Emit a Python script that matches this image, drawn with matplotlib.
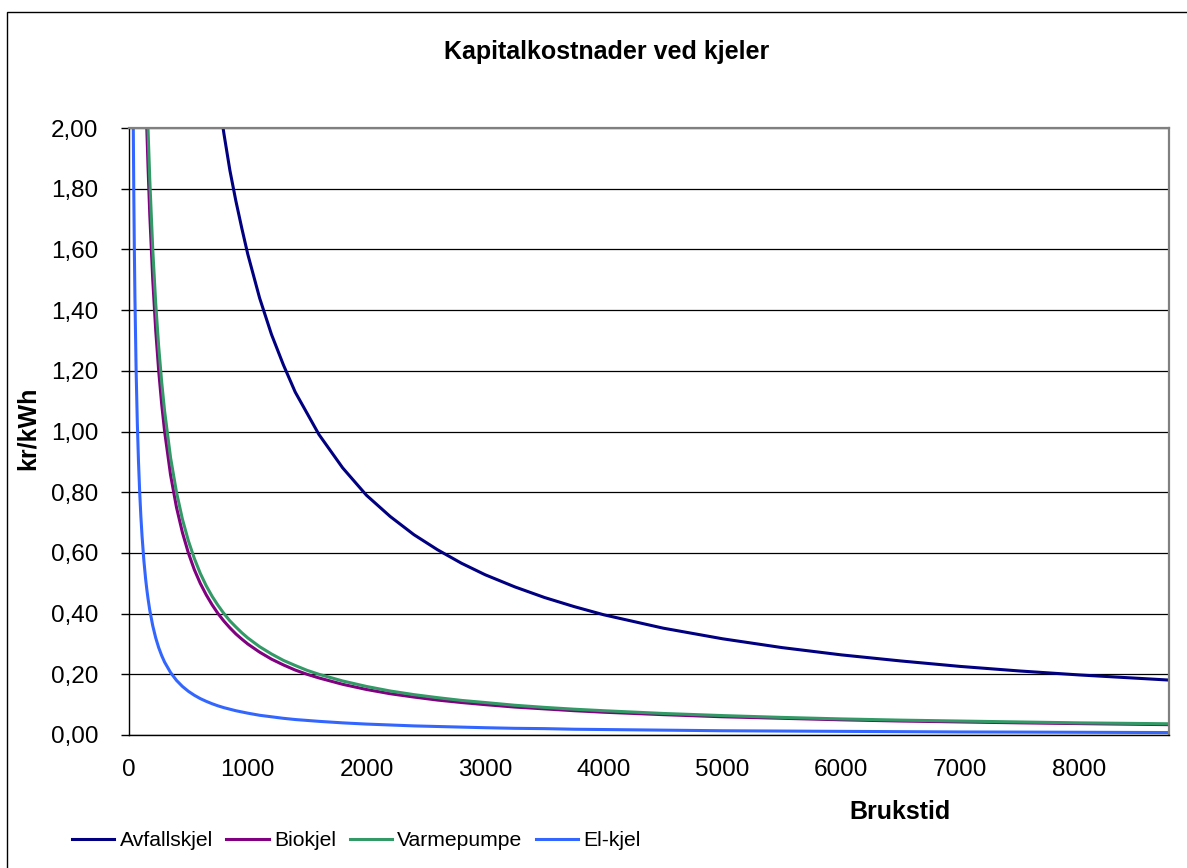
import matplotlib.pyplot as plt
from matplotlib.patches import Rectangle

plt.rcParams['font.family'] = ['Liberation Sans', 'DejaVu Sans']

# brukstid (timer) and kapitalkostnad (kr/kWh)
brukstid = [30, 35, 40, 45, 50, 60, 70, 80, 90, 100,
            110, 125, 140, 150, 160, 175, 200, 225, 250, 275,
            300, 350, 400, 450, 500, 550, 600, 650, 700, 750,
            800, 850, 900, 950, 1000, 1100, 1200, 1300, 1400, 1500,
            1600, 1800, 2000, 2200, 2400, 2600, 2800, 3000, 3250, 3500,
            3750, 4000, 4500, 5000, 5500, 6000, 6500, 7000, 7500, 8000,
            8760]

avfallskjel = [52.83, 45.29, 39.63, 35.22, 31.70, 26.42, 22.64, 19.81, 17.61, 15.85,
               14.41, 12.68, 11.32, 10.57, 9.91, 9.06, 7.93, 7.04, 6.34, 5.76,
               5.28, 4.53, 3.96, 3.52, 3.17, 2.88, 2.64, 2.44, 2.26, 2.11,
               1.98, 1.86, 1.76, 1.67, 1.585, 1.44, 1.32, 1.22, 1.13, 1.06,
               0.99, 0.88, 0.79, 0.720, 0.660, 0.610, 0.566, 0.528, 0.488, 0.453,
               0.423, 0.396, 0.352, 0.317, 0.288, 0.264, 0.244, 0.226, 0.211, 0.198,
               0.181]

biokjel = [10.0, 8.57, 7.5, 6.67, 6.0, 5.0, 4.29, 3.75, 3.33, 3.0,
           2.73, 2.4, 2.14, 2.0, 1.875, 1.714, 1.5, 1.333, 1.2, 1.091,
           1.0, 0.857, 0.75, 0.667, 0.6, 0.545, 0.5, 0.462, 0.429, 0.4,
           0.375, 0.353, 0.333, 0.316, 0.3, 0.273, 0.25, 0.231, 0.214, 0.2,
           0.188, 0.167, 0.15, 0.136, 0.125, 0.115, 0.107, 0.1, 0.092, 0.086,
           0.08, 0.075, 0.067, 0.06, 0.055, 0.05, 0.046, 0.043, 0.04, 0.0375,
           0.034]

varmepumpe = [10.67, 9.14, 8.0, 7.11, 6.4, 5.33, 4.57, 4.0, 3.56, 3.2,
              2.91, 2.56, 2.29, 2.13, 2.0, 1.829, 1.6, 1.422, 1.28, 1.164,
              1.067, 0.914, 0.8, 0.711, 0.64, 0.582, 0.533, 0.492, 0.457, 0.427,
              0.4, 0.376, 0.356, 0.337, 0.32, 0.291, 0.267, 0.246, 0.229, 0.213,
              0.2, 0.178, 0.16, 0.145, 0.133, 0.123, 0.114, 0.107, 0.098, 0.091,
              0.085, 0.08, 0.071, 0.064, 0.058, 0.053, 0.049, 0.046, 0.043, 0.04,
              0.037]

el_kjel = [2.4, 2.057, 1.8, 1.6, 1.44, 1.2, 1.029, 0.9, 0.8, 0.72,
           0.655, 0.576, 0.514, 0.48, 0.45, 0.411, 0.36, 0.32, 0.288, 0.262,
           0.24, 0.206, 0.18, 0.16, 0.144, 0.131, 0.12, 0.111, 0.103, 0.096,
           0.09, 0.085, 0.08, 0.076, 0.072, 0.065, 0.06, 0.055, 0.051, 0.048,
           0.045, 0.04, 0.036, 0.033, 0.03, 0.028, 0.026, 0.024, 0.022, 0.021,
           0.019, 0.018, 0.016, 0.014, 0.013, 0.012, 0.011, 0.010, 0.0096, 0.009,
           0.008]

series = [('Avfallskjel', avfallskjel, '#000080'),
          ('Biokjel', biokjel, '#800080'),
          ('Varmepumpe', varmepumpe, '#339966'),
          ('El-kjel', el_kjel, '#3366FF')]

W, H = 1187, 868
fig = plt.figure(figsize=(W / 100, H / 100), dpi=100)
ax = fig.add_axes([129 / W, 1 - 735 / H, (1169 - 129) / W, (735 - 128) / H])

for name, vals, col in series:
    ax.plot(brukstid, vals, color=col, lw=2.2, label=name,
            solid_joinstyle='round')

ax.set_xlim(0, 8760)
ax.set_ylim(0, 2.0)
ax.set_xticks(range(0, 8001, 1000))
ax.set_xticks([0], minor=True)
ax.set_yticks([i * 0.2 for i in range(11)])
ax.set_yticklabels([f'{i * 0.2:.2f}'.replace('.', ',') for i in range(11)])

ax.tick_params(axis='x', which='major', length=0, pad=17, labelsize=17.5)
ax.tick_params(axis='x', which='minor', length=6, width=1, color='black')
ax.tick_params(axis='y', length=6, width=1, pad=16, labelsize=17.5)

ax.grid(axis='y', color='black', lw=0.9)
ax.set_axisbelow(True)
for s in ['left', 'bottom']:
    ax.spines[s].set_color('black')
    ax.spines[s].set_linewidth(1)
for s in ['top', 'right']:
    ax.spines[s].set_color('#808080')
    ax.spines[s].set_linewidth(1.6)

fig.text(607 / W, 1 - 52 / H, 'Kapitalkostnader ved kjeler', fontsize=18,
         fontweight='bold', ha='center', va='center')
fig.text(900 / W, 1 - 812 / H, 'Brukstid', fontsize=18, fontweight='bold',
         ha='center', va='center')
fig.text(28 / W, 1 - 428 / H, 'kr/kWh', fontsize=18, fontweight='bold',
         ha='center', va='center', rotation=90)

fig.legend(loc='center left', bbox_to_anchor=(72 / W, 1 - 841 / H), ncol=4,
           frameon=False, fontsize=15.2, handlelength=2.0, handletextpad=0.25,
           columnspacing=0.65, borderpad=0, borderaxespad=0)

# outer chart border (right and bottom edges fall outside the picture)
fig.patches.append(Rectangle((7 / W, -0.1), 1.2, 1 - 12 / H + 0.1,
                             transform=fig.transFigure, fill=False,
                             edgecolor='black', lw=1))

fig.savefig('out.png', dpi=100)
